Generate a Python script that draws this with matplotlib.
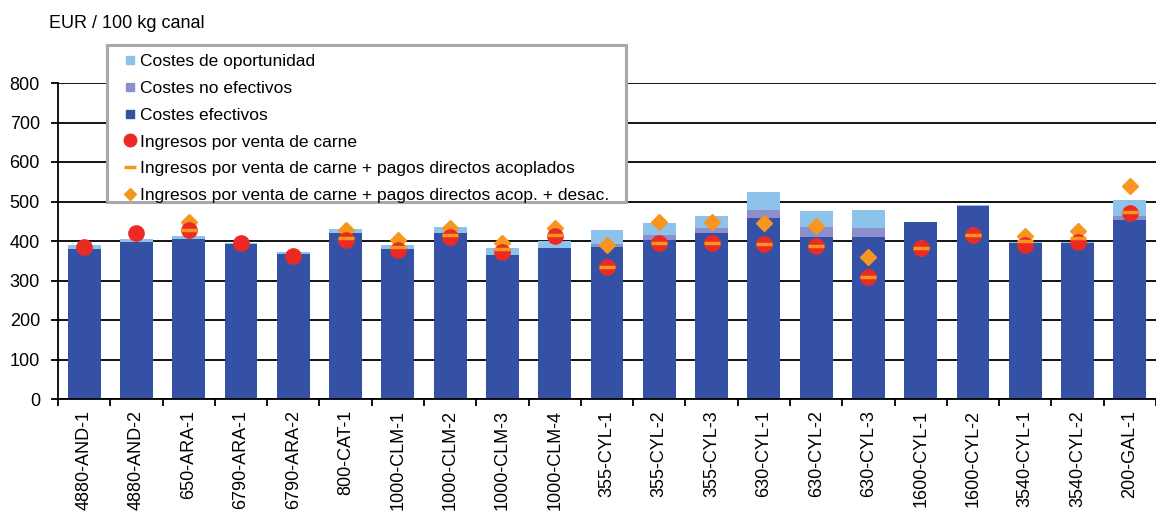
import numpy as np
import matplotlib
matplotlib.use("Agg")
import matplotlib.pyplot as plt
from matplotlib.lines import Line2D
from matplotlib.patches import Rectangle

plt.rcParams['font.family'] = ['Liberation Sans', 'DejaVu Sans']

categories = ["4880-AND-1", "4880-AND-2", "650-ARA-1", "6790-ARA-1", "6790-ARA-2",
              "800-CAT-1", "1000-CLM-1", "1000-CLM-2", "1000-CLM-3", "1000-CLM-4",
              "355-CYL-1", "355-CYL-2", "355-CYL-3", "630-CYL-1", "630-CYL-2",
              "630-CYL-3", "1600-CYL-1", "1600-CYL-2", "3540-CYL-1", "3540-CYL-2",
              "200-GAL-1"]

costes_efectivos = [380, 397, 406, 392, 368, 420, 379, 421, 365, 382, 386,
                    403, 419, 457, 409, 409, 447, 489, 395, 395, 453]
costes_no_efectivos = [0, 0, 0, 0, 0, 0, 0, 0, 0, 0, 6,
                       11, 14, 22, 27, 23, 0, 0, 0, 0, 10]
costes_oportunidad = [11, 9, 7, 4, 4, 10, 10, 15, 17, 17, 35,
                      32, 30, 45, 41, 47, 1, 2, 2, 2, 40]

ingresos_carne = [385, 420, 427, 396, 362, 402, 377, 410, 372, 413, 335,
                  396, 396, 392, 387, 310, 383, 415, 390, 398, 472]
ingresos_acoplados = [np.nan, np.nan, 427, np.nan, np.nan, 408, 385, 416, 379, 415, 335,
                      396, 396, 392, 387, 310, 383, 415, 400, 407, 474]
ingresos_desacoplados = [np.nan, np.nan, 449, np.nan, np.nan, 427, 402, 432, 396, 433, 389,
                         449, 449, 446, 438, 359, 383, 415, 413, 426, 540]

yticks = [0, 100, 200, 300, 400, 500, 600, 700, 800]

legend_labels = ["Costes de oportunidad", "Costes no efectivos", "Costes efectivos",
                 "Ingresos por venta de carne",
                 "Ingresos por venta de carne + pagos directos acoplados",
                 "Ingresos por venta de carne + pagos directos acop. + desac."]

c_ef = "#3551A6"
c_noef = "#8C8FCB"
c_op = "#8DC3EB"
c_red = "#EC2A24"
c_orange = "#F7961F"

W, H = 1156, 515
fig = plt.figure(figsize=(W / 100, H / 100), dpi=100)
ax = fig.add_axes([58 / W, (H - 399) / H, (W - 58) / W, (399 - 83) / H])

x = np.arange(len(categories))
ef = np.array(costes_efectivos, dtype=float)
ne = np.array(costes_no_efectivos, dtype=float)
op = np.array(costes_oportunidad, dtype=float)
bw = 0.63
ax.bar(x, ef, bw, color=c_ef, zorder=2)
ax.bar(x, ne, bw, bottom=ef, color=c_noef, zorder=2)
ax.bar(x, op, bw, bottom=ef + ne, color=c_op, zorder=2)

ax.plot(x, ingresos_desacoplados, ls='', marker='D', ms=8, color=c_orange, mec=c_orange, zorder=3)
ax.plot(x, ingresos_carne, ls='', marker='o', ms=11, color=c_red, mec=c_red, zorder=4)
ax.plot(x, ingresos_acoplados, ls='', marker='_', ms=11, mew=2.5, color=c_orange, zorder=5)

ax.set_ylim(0, 800)
ax.set_xlim(-0.5, 20.3)
ax.set_yticks(yticks)
ax.set_yticklabels([str(v) for v in yticks], fontsize=13)
ax.yaxis.grid(True, color='black', linewidth=1.3, zorder=0)
ax.set_axisbelow(True)

ax.set_xticks(x)
ax.set_xticklabels(categories, rotation=90, fontsize=13, va='top', ha='center')
ax.set_xticks(np.arange(-0.5, len(categories), 1), minor=True)
ax.tick_params(axis='x', which='major', length=0, pad=8)
ax.tick_params(axis='x', which='minor', length=5, width=1.3, direction='out')
ax.tick_params(axis='y', length=5, width=1.3, direction='out', pad=8)

for s in ['top', 'right']:
    ax.spines[s].set_visible(False)
for s in ['left', 'bottom']:
    ax.spines[s].set_linewidth(1.3)
    ax.spines[s].set_color('black')

fig.text(49 / W, 1 - 24 / H, "EUR / 100 kg canal", fontsize=13, va='center', ha='left')

# legend frame
frame = Rectangle((107 / W, 1 - 202 / H), (626 - 107) / W, (202 - 45) / H,
                  transform=fig.transFigure, facecolor='white', edgecolor='#A8A8A8',
                  linewidth=2.2, zorder=9)
fig.patches.append(frame)

handles = [
    Line2D([], [], ls='', marker='s', ms=6, color=c_op),
    Line2D([], [], ls='', marker='s', ms=6, color=c_noef),
    Line2D([], [], ls='', marker='s', ms=6, color=c_ef),
    Line2D([], [], ls='', marker='o', ms=9, color=c_red),
    Line2D([], [], ls='', marker='_', ms=9, mew=2.5, color=c_orange),
    Line2D([], [], ls='', marker='D', ms=6, color=c_orange),
]
leg = fig.legend(handles, legend_labels, loc='upper left',
                 bbox_to_anchor=(125 / W, 1 - 54 / H), bbox_transform=fig.transFigure,
                 fontsize=12.5, frameon=False, borderaxespad=0,
                 handlelength=0.6, handletextpad=0.27, labelspacing=0.67,
                 borderpad=0)
leg.set_zorder(10)

fig.savefig("out.png", dpi=100)
